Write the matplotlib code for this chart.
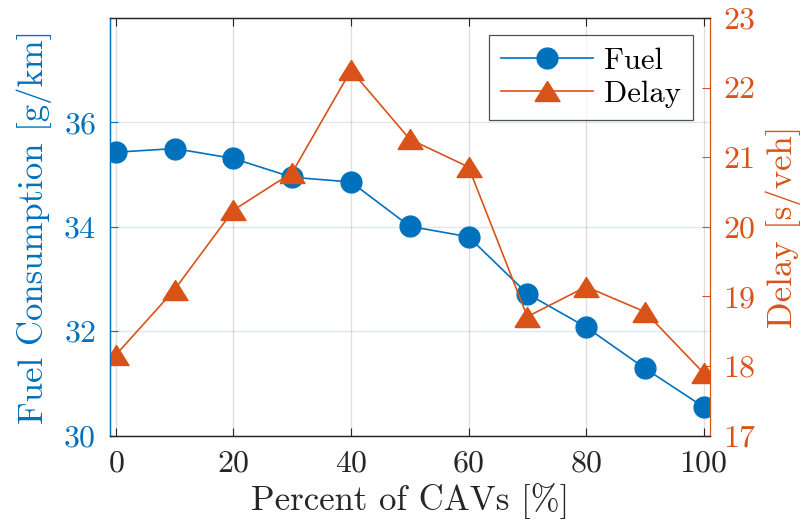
import numpy as np
import matplotlib
matplotlib.use("Agg")
import matplotlib.pyplot as plt

# penetration rate of CAVs and the two measured quantities
percent = [0, 10, 20, 30, 40, 50, 60, 70, 80, 90, 100]
fuel = [35.43, 35.50, 35.31, 34.95, 34.86, 34.01, 33.81, 32.72, 32.08, 31.29, 30.55]
delay = [18.16, 19.10, 20.24, 20.78, 22.25, 21.26, 20.86, 18.71, 19.14, 18.78, 17.90]

fuel_ticks = [30, 32, 34, 36]
delay_ticks = [17, 18, 19, 20, 21, 22, 23]
x_ticks = [0, 20, 40, 60, 80, 100]

blue = '#0072BD'
orange = '#D95319'
dark = '#262626'

plt.rcParams['font.family'] = 'cmr10'
plt.rcParams['mathtext.fontset'] = 'cm'
plt.rcParams['axes.formatter.use_mathtext'] = True

# wide flat triangle like the matlab one
tri = [(-1.25, -1.0), (1.25, -1.0), (0.0, 1.0), (-1.25, -1.0)]

fig = plt.figure(figsize=(8.04, 5.31), dpi=100)
ax = fig.add_axes([0.1368, 0.1795, 0.7457, 0.7865])
ax2 = ax.twinx()

l1, = ax.plot(percent, fuel, '-o', color=blue, lw=1.2, ms=15, label='Fuel')
l2, = ax2.plot(percent, delay, '-', marker=tri, color=orange, lw=1.2, ms=18, label='Delay')

ax.set_xlim(-1, 101)
ax.set_ylim(30, 38)
ax2.set_ylim(17, 23)
ax.set_xticks(x_ticks)
ax.set_yticks(fuel_ticks)
ax2.set_yticks(delay_ticks)

# grid: vertical lines grey, horizontal ones tinted by the left axis colour
ax.grid(True, axis='x', color=dark, alpha=0.15, lw=1.0)
ax.grid(True, axis='y', color=blue, alpha=0.15, lw=1.0)
ax.set_axisbelow(True)

ax.tick_params(axis='x', direction='in', top=True, length=6, width=0.8,
               colors=dark, labelsize=23, pad=10)
ax.tick_params(axis='y', direction='in', length=6, width=0.8,
               colors=blue, labelsize=23, pad=10)
ax2.tick_params(axis='y', direction='in', length=6, width=0.8,
                colors=orange, labelsize=23, pad=10)

for a in (ax, ax2):
    a.spines['top'].set_color(dark)
    a.spines['bottom'].set_color(dark)
    for s in a.spines.values():
        s.set_linewidth(0.9)
ax.spines['left'].set_color(blue)
ax2.spines['left'].set_color(blue)
ax2.spines['right'].set_color(orange)
ax.spines['right'].set_visible(False)

ax.set_xlabel('Percent of CAVs [%]', fontsize=25, color=dark, labelpad=4)
ax.set_ylabel('Fuel Consumption [g/km]', fontsize=25, color=blue, labelpad=8)
ax2.set_ylabel('Delay [s/veh]', fontsize=25, color=orange, labelpad=6)

leg = ax2.legend(handles=[l1, l2], loc='upper right', fontsize=22,
                 frameon=True, fancybox=False, edgecolor=dark,
                 borderaxespad=0.55, handlelength=3.0, handletextpad=0.35,
                 labelspacing=0.2, borderpad=0.4)
leg.get_frame().set_linewidth(0.9)

fig.savefig('out.png', dpi=100)
